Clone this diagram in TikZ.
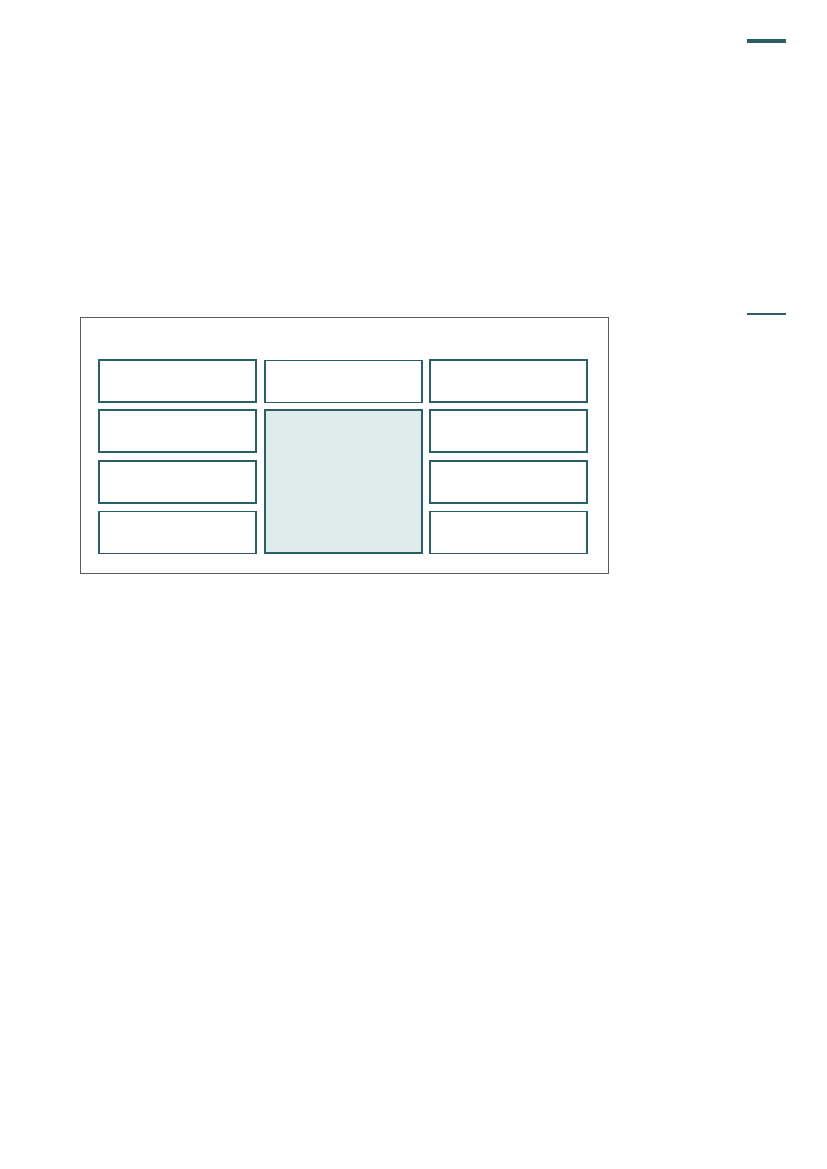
\documentclass[tikz,border=0pt]{standalone}
\usetikzlibrary{positioning,calc}
\definecolor{teal1}{HTML}{2A5F68}
\definecolor{tealfill}{HTML}{E0ECEB}
\definecolor{framegray}{HTML}{5A5A5A}
\begin{document}
\begin{tikzpicture}
[x=0.7198pt,y=-0.7198pt,
cell/.style={draw=teal1,line width=1.1pt,fill=white,minimum width=113pt,minimum height=30.2pt,inner sep=0pt},
core/.style={cell,fill=tealfill,minimum height=102.9pt},
rule/.style={teal1,line width=2.2pt}]
\useasboundingbox (0,0) rectangle (827,1169);
%% marks on the right
\draw[rule] (747,41) -- (786,41);
\draw[rule,line width=1.1pt] (747,314) -- (786,314);
%% panel
\draw[framegray,line width=0.7pt] (80,317) rectangle (608,573);
% left column
\node[cell] (l1) at (177.5,381) {};
\node[cell] (l2) at (177.5,431) {};
\node[cell] (l3) at (177.5,482) {};
\node[cell] (l4) at (177.5,532.5) {};
% middle column
\node[cell] (m1) at (343.5,381.5) {};
\node[core] (m2) at (343.5,481.5) {};
% right column
\node[cell] (r1) at (508.5,381) {};
\node[cell] (r2) at (508.5,431) {};
\node[cell] (r3) at (508.5,482) {};
\node[cell] (r4) at (508.5,532.5) {};
\end{tikzpicture}
\end{document}
